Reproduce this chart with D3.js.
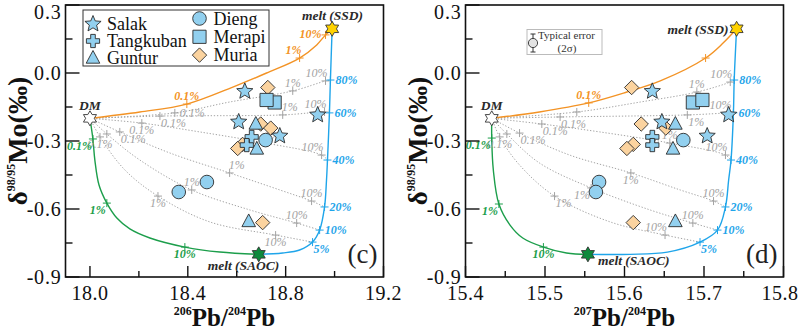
<!DOCTYPE html>
<html>
<head>
<meta charset="utf-8">
<script src="https://cdn.jsdelivr.net/npm/d3@7"></script>
<style>
  body { margin: 0; background: #fff; }
  svg { display: block; }
  text { font-family: 'Liberation Serif', 'Times New Roman', 'DejaVu Serif', serif; }
</style>
</head>
<body>
<svg id="chart" width="800" height="330"></svg>
<script>
// ---- axis ticks ----
const MO_TICKS = [0.3, 0.0, -0.3, -0.6, -0.9]
const MO_MINOR = [0.15, -0.15, -0.45, -0.75]
const PB206_TICKS = [18.0, 18.4, 18.8, 19.2]
const PB206_MINOR = [18.2, 18.6, 19.0]
const PB207_TICKS = [15.4, 15.5, 15.6, 15.7, 15.8]
const PB207_MINOR = [15.45, 15.55, 15.65, 15.75]

// ---- samples: [206Pb/204Pb, 207Pb/204Pb, d98/95Mo] ----
const SALAK = [[18.633, 15.635, -0.081], [18.608, 15.647, -0.216], [18.776, 15.704, -0.278], [18.931, 15.731, -0.185]]
const TANGKUBAN = [[18.661, 15.635, -0.282], [18.641, 15.635, -0.318]]
const GUNTUR = [[18.678, 15.664, -0.225], [18.682, 15.661, -0.335], [18.649, 15.664, -0.655]]
const DIENG = [[18.718, 15.674, -0.296], [18.478, 15.568, -0.481], [18.363, 15.564, -0.525]]
const MERAPI = [[18.755, 15.686, -0.130], [18.722, 15.698, -0.119]]
const MURIA = [[18.727, 15.609, -0.064], [18.698, 15.621, -0.225], [18.739, 15.652, -0.243], [18.624, 15.611, -0.315], [18.604, 15.603, -0.333], [18.706, 15.611, -0.660]]

// ---- end-members ----
const DM = [18.0, 15.433, -0.2]
const SSD = [18.99, 15.741, 0.195]
const SAOC = [18.69, 15.554, -0.8]

// ---- mixing curves, panel c: [x, y, tickLabel, labelSide] ----
const ORANGE_C = [[18.0, -0.2], [18.204, -0.172], [18.396, -0.137, '0.1%', 'n'], [18.584, -0.062], [18.722, 0.0],
  [18.857, 0.066, '1%', 'nw'], [18.927, 0.124], [18.963, 0.168, '10%', 'w'], [18.99, 0.195]]
const GREEN_C = [[18.0, -0.2], [18.012, -0.291, '0.1%', 'sw'], [18.020, -0.384], [18.037, -0.494], [18.069, -0.574, '1%', 'sw'],
  [18.110, -0.640], [18.163, -0.688], [18.245, -0.728], [18.388, -0.768, '10%', 's'], [18.531, -0.790], [18.69, -0.80]]
const BLUE_C = [[18.69, -0.80], [18.788, -0.794], [18.857, -0.781], [18.910, -0.746, '5%', 'se'], [18.939, -0.693, '10%', 'e'],
  [18.959, -0.591, '20%', 'e'], [18.967, -0.472], [18.971, -0.384, '40%', 'e'], [18.979, -0.176, '60%', 'e'],
  [18.983, -0.031, '80%', 'e'], [18.99, 0.195]]
const GRAY_C = [
  [[18.0, -0.2], [18.347, -0.176, '0.1%', 'e'], [18.571, -0.128], [18.829, -0.079, '1%', 'n'], [18.963, -0.035, '10%', 'nw'], [18.983, -0.031]],
  [[18.0, -0.2], [18.286, -0.190, '0.1%', 'se'], [18.788, -0.185, '1%', 'ne'], [18.959, -0.172, '10%', 'nw'], [18.979, -0.176]],
  [[18.0, -0.2], [18.212, -0.221, '0.1%', 's'], [18.449, -0.260], [18.718, -0.309, '1%', 'ne'], [18.947, -0.362, '10%', 'nw'], [18.971, -0.384]],
  [[18.0, -0.2], [18.122, -0.260, '0.1%', 'se'], [18.327, -0.353], [18.571, -0.441, '1%', 'ne'], [18.776, -0.516], [18.906, -0.565, '10%', 'n'], [18.959, -0.591]],
  [[18.0, -0.2], [18.069, -0.269, ''], [18.204, -0.384], [18.416, -0.516, '1%', 'n'], [18.653, -0.604], [18.845, -0.662, '10%', 'n'], [18.939, -0.693]],
  [[18.0, -0.2], [18.041, -0.282, '0.1%', 's'], [18.143, -0.428], [18.278, -0.543, '1%', 's'], [18.490, -0.657], [18.759, -0.715, '10%', 's'], [18.910, -0.746]]
]

// ---- mixing curves, panel d ----
const ORANGE_D = [[15.433, -0.2], [15.493, -0.172], [15.555, -0.132, '0.1%', 'n'], [15.603, -0.084], [15.645, -0.035],
  [15.702, 0.066, ''], [15.724, 0.132], [15.741, 0.195]]
const GREEN_D = [[15.433, -0.2], [15.433, -0.287, '0.1%', 'sw'], [15.435, -0.428], [15.442, -0.578, '1%', 'sw'], [15.456, -0.671],
  [15.472, -0.728], [15.498, -0.768, '10%', 's'], [15.527, -0.794], [15.554, -0.80]]
const BLUE_D = [[15.554, -0.80], [15.607, -0.800], [15.654, -0.790], [15.695, -0.746, '5%', 'se'], [15.717, -0.693, '10%', 'e'],
  [15.727, -0.591, '20%', 'e'], [15.731, -0.472], [15.734, -0.384, '40%', 'e'], [15.737, -0.176, '60%', 'e'],
  [15.738, -0.031, '80%', 'e'], [15.741, 0.195]]
const GRAY_D = [
  [[15.433, -0.2], [15.540, -0.172, ''], [15.620, -0.128], [15.691, -0.084, '1%', 'n'], [15.733, -0.040, '10%', 'nw'], [15.738, -0.031]],
  [[15.433, -0.2], [15.519, -0.194, '0.1%', 'se'], [15.679, -0.185, '1%', 'se'], [15.732, -0.176, '10%', 'nw'], [15.737, -0.176]],
  [[15.433, -0.2], [15.496, -0.225, '0.1%', 'se'], [15.569, -0.260], [15.657, -0.309, '1%', 'n'], [15.727, -0.362, '10%', 'nw'], [15.734, -0.384]],
  [[15.433, -0.2], [15.468, -0.265, '0.1%', 'se'], [15.531, -0.362], [15.608, -0.441, '1%', 's'], [15.670, -0.516], [15.712, -0.565, '10%', 'n'], [15.727, -0.591]],
  [[15.433, -0.2], [15.452, -0.269, ''], [15.493, -0.397], [15.558, -0.507, '1%', 'sw'], [15.632, -0.604], [15.686, -0.662, '10%', 'n'], [15.717, -0.693]],
  [[15.433, -0.2], [15.443, -0.282, '0.1%', 's'], [15.468, -0.406], [15.512, -0.543, '1%', 'se'], [15.582, -0.657], [15.651, -0.715, '10%', 'nw'], [15.695, -0.746]]
]

// ---- styles ----
const FONT = "'Liberation Serif', 'Times New Roman', 'DejaVu Serif', serif"
const C_ORANGE = '#f39325'
const C_GREEN = '#1c9e4b'
const C_BLUE = '#1fa5ea'
const C_GRAY = '#a3a3a3'
const C_FILL = '#92d0ef'
const C_PEACH = '#fbd39f'
const C_EDGE = '#2b2b2b'

const GROUPS = [
  { name: 'Muria', data: MURIA, shape: 'diamond', fill: C_PEACH },
  { name: 'Merapi', data: MERAPI, shape: 'square', fill: C_FILL },
  { name: 'Dieng', data: DIENG, shape: 'circle', fill: C_FILL },
  { name: 'Salak', data: SALAK, shape: 'star', fill: C_FILL },
  { name: 'Guntur', data: GUNTUR, shape: 'triangle', fill: C_FILL },
  { name: 'Tangkuban', data: TANGKUBAN, shape: 'cross', fill: C_FILL }
]
const LEGEND_ROWS = [
  { name: 'Salak', col: 0, row: 0 }, { name: 'Tangkuban', col: 0, row: 1 }, { name: 'Guntur', col: 0, row: 2 },
  { name: 'Dieng', col: 1, row: 0 }, { name: 'Merapi', col: 1, row: 1 }, { name: 'Muria', col: 1, row: 2 }
]

const shapePath = (shape) => {
  const p = d3.path()
  if (shape === 'star' || shape === 'hex') {
    const n = shape === 'star' ? 5 : 6
    const R = shape === 'star' ? 8.5 : 7.5
    const r = shape === 'star' ? R * 0.45 : R * 0.58
    for (let i = 0; i < 2 * n; i++) {
      const a = -Math.PI / 2 + i * Math.PI / n
      const rr = i % 2 ? r : R
      i ? p.lineTo(rr * Math.cos(a), rr * Math.sin(a)) : p.moveTo(rr * Math.cos(a), rr * Math.sin(a))
    }
    p.closePath()
  } else if (shape === 'circle') {
    p.arc(0, 0, 6.8, 0, 2 * Math.PI)
  } else if (shape === 'square') {
    p.rect(-6.6, -6.6, 13.2, 13.2)
  } else if (shape === 'diamond') {
    p.moveTo(0, -7.2); p.lineTo(7.2, 0); p.lineTo(0, 7.2); p.lineTo(-7.2, 0); p.closePath()
  } else if (shape === 'triangle') {
    p.moveTo(0, -7.5); p.lineTo(6.8, 5.2); p.lineTo(-6.8, 5.2); p.closePath()
  } else if (shape === 'cross') {
    const a = 2.3, b = 6.6
    p.moveTo(-a, -b); p.lineTo(a, -b); p.lineTo(a, -a); p.lineTo(b, -a); p.lineTo(b, a); p.lineTo(a, a)
    p.lineTo(a, b); p.lineTo(-a, b); p.lineTo(-a, a); p.lineTo(-b, a); p.lineTo(-b, -a); p.lineTo(-a, -a); p.closePath()
  }
  return p.toString()
}

const LABEL_SIDE = {
  n: ['middle', 0, -4], s: ['middle', 0, 11], e: ['start', 5, 4], w: ['end', -4, 3],
  ne: ['start', -1, -4], nw: ['end', 2, -4], se: ['start', 1, 11], sw: ['end', -1, 11]
}

const fmt = d3.formatLocale({ decimal: '.', thousands: ',', grouping: [3], currency: ['', ''], minus: '-' }).format('.1f')
const svg = d3.select('#chart')

const PANELS = [
  { key: 'c', xi: 0, left: 65.5, right: 383.5, xDomain: [17.9, 19.2], xTicks: PB206_TICKS, xMinor: PB206_MINOR, xSup: '206',
    orange: ORANGE_C, green: GREEN_C, blue: BLUE_C, gray: GRAY_C },
  { key: 'd', xi: 1, left: 465.5, right: 783.5, xDomain: [15.4, 15.8], xTicks: PB207_TICKS, xMinor: PB207_MINOR, xSup: '207',
    orange: ORANGE_D, green: GREEN_D, blue: BLUE_D, gray: GRAY_D }
]

function drawPanel(cfg) {
  const g = svg.append('g')
  const top = 5, bottom = 277
  const x = d3.scaleLinear().domain(cfg.xDomain).range([cfg.left, cfg.right])
  const y = d3.scaleLinear().domain([-0.9, 0.3]).range([bottom, top])
  const line = d3.line().x(d => x(d[0])).y(d => y(d[1])).curve(d3.curveCatmullRom.alpha(0.5))

  // mixing curves
  cfg.gray.forEach(c => {
    g.append('path').attr('d', line(c)).attr('fill', 'none')
      .attr('stroke', C_GRAY).attr('stroke-width', 1).attr('stroke-dasharray', '1.3 1.8')
  })
  const curves = [
    { pts: cfg.orange, color: C_ORANGE }, { pts: cfg.green, color: C_GREEN }, { pts: cfg.blue, color: C_BLUE }
  ]
  curves.forEach(c => {
    g.append('path').attr('d', line(c.pts)).attr('fill', 'none').attr('stroke', c.color).attr('stroke-width', 1.4)
  })

  // "+" marks and percent labels
  const marked = []
  cfg.gray.forEach(c => c.forEach(p => p.length > 2 && marked.push({ p, color: C_GRAY, bold: false })))
  curves.forEach(c => c.pts.forEach(p => p.length > 2 && marked.push({ p, color: c.color, bold: true })))
  marked.forEach(m => {
    const px = x(m.p[0]), py = y(m.p[1])
    g.append('path').attr('d', `M${px - 4},${py}H${px + 4}M${px},${py - 4}V${py + 4}`)
      .attr('stroke', m.color).attr('stroke-width', 1)
    if (m.p[2]) {
      const [anchor, dx, dy] = LABEL_SIDE[m.p[3]]
      g.append('text').attr('x', px + dx).attr('y', py + dy).attr('text-anchor', anchor)
        .attr('font-size', 12).attr('font-style', 'italic').attr('font-weight', m.bold ? 'bold' : 'normal')
        .attr('fill', m.color).text(m.p[2])
    }
  })

  // end-members
  const ends = [
    { d: DM, fill: '#fff' }, { d: SSD, fill: '#ffd200' }, { d: SAOC, fill: '#0d8a3c' }
  ]
  ends.forEach(e => {
    g.append('path').attr('d', shapePath('hex'))
      .attr('transform', `translate(${x(e.d[cfg.xi])},${y(e.d[2])})`)
      .attr('fill', e.fill).attr('stroke', '#333').attr('stroke-width', 0.9)
  })
  const endText = (t, px, py, anchor) => g.append('text').attr('x', px).attr('y', py).attr('text-anchor', anchor)
    .attr('font-size', 13.5).attr('font-style', 'italic').attr('font-weight', 'bold').attr('fill', '#2a2a2a').text(t)
  endText('DM', x(DM[cfg.xi]), y(DM[2]) - 8, 'middle')
  if (cfg.key === 'c') {
    endText('melt (SSD)', x(SSD[0]) + 31, y(SSD[2]) - 9, 'end')
    endText('melt (SAOC)', x(SAOC[0]) - 51, y(SAOC[2]) + 16, 'start')
  } else {
    endText('melt (SSD)', x(SSD[1]) - 8, y(SSD[2]) + 5, 'end')
    endText('melt (SAOC)', x(SAOC[1]) + 10, y(SAOC[2]) + 11, 'start')
  }

  // samples
  GROUPS.forEach(gr => {
    g.append('g').selectAll('path').data(gr.data).join('path')
      .attr('d', shapePath(gr.shape))
      .attr('transform', d => `translate(${x(d[cfg.xi])},${y(d[2])})`)
      .attr('fill', gr.fill).attr('stroke', C_EDGE).attr('stroke-width', 0.9)
  })

  // frame and ticks
  g.append('rect').attr('x', cfg.left).attr('y', top).attr('width', cfg.right - cfg.left).attr('height', bottom - top)
    .attr('fill', 'none').attr('stroke', '#111').attr('stroke-width', 1.6)
  MO_TICKS.forEach(v => {
    g.append('line').attr('x1', cfg.left).attr('x2', cfg.left + 14).attr('y1', y(v)).attr('y2', y(v)).attr('stroke', '#111').attr('stroke-width', 1.4)
    g.append('text').attr('x', cfg.left - 4).attr('y', Math.max(y(v), 12) + 7).attr('text-anchor', 'end')
      .attr('font-size', 20).attr('letter-spacing', 0.8).attr('fill', '#111').text(fmt(v))
  })
  MO_MINOR.forEach(v => {
    g.append('line').attr('x1', cfg.left).attr('x2', cfg.left + 7).attr('y1', y(v)).attr('y2', y(v)).attr('stroke', '#111').attr('stroke-width', 1.4)
  })
  cfg.xTicks.forEach(v => {
    g.append('line').attr('x1', x(v)).attr('x2', x(v)).attr('y1', bottom).attr('y2', bottom - 11).attr('stroke', '#111').attr('stroke-width', 1.4)
    g.append('text').attr('x', Math.min(x(v), 780)).attr('y', 300).attr('text-anchor', 'middle')
      .attr('font-size', 20).attr('letter-spacing', 0.5).attr('fill', '#111').text(fmt(v))
  })
  cfg.xMinor.forEach(v => {
    g.append('line').attr('x1', x(v)).attr('x2', x(v)).attr('y1', bottom).attr('y2', bottom - 6).attr('stroke', '#111').attr('stroke-width', 1.4)
  })

  // axis titles
  const yt = g.append('text').attr('transform', `translate(${cfg.left - 39},141) rotate(-90)`)
    .attr('text-anchor', 'middle').attr('font-weight', 'bold').attr('fill', '#111')
  yt.append('tspan').attr('font-size', 27).text('δ')
  yt.append('tspan').attr('font-size', 12).attr('dy', -12).text('98/95')
  yt.append('tspan').attr('font-size', 28).attr('dy', 12).text('Mo(‰)')

  const xt = g.append('text').attr('x', (cfg.left + cfg.right) / 2).attr('y', 326)
    .attr('text-anchor', 'middle').attr('font-weight', 'bold').attr('fill', '#111')
  xt.append('tspan').attr('font-size', 12).attr('dy', -11).text(cfg.xSup)
  xt.append('tspan').attr('font-size', 25).attr('dy', 11).text('Pb/')
  xt.append('tspan').attr('font-size', 12).attr('dy', -11).text('204')
  xt.append('tspan').attr('font-size', 25).attr('dy', 11).text('Pb')

  g.append('text').attr('x', cfg.right - 6).attr('y', 263).attr('text-anchor', 'end')
    .attr('font-size', 27).attr('fill', '#222').text(`(${cfg.key})`)

  // legends
  if (cfg.key === 'c') {
    const lg = g.append('g')
    lg.append('rect').attr('x', cfg.left + 17.5).attr('y', 10).attr('width', 186).attr('height', 56)
      .attr('fill', '#fff').attr('stroke', '#333').attr('stroke-width', 1)
    LEGEND_ROWS.forEach(r => {
      const gr = GROUPS.find(d => d.name === r.name)
      const mx = cfg.left + (r.col ? 134 : 27.5)
      const my = r.col ? 18.5 + r.row * 18.3 : 24 + r.row * 17
      lg.append('path').attr('d', shapePath(gr.shape)).attr('transform', `translate(${mx},${my})`)
        .attr('fill', gr.fill).attr('stroke', C_EDGE).attr('stroke-width', 0.9)
      lg.append('text').attr('x', mx + 14).attr('y', my + 6).attr('font-size', 18).attr('fill', '#111').text(r.name)
    })
  } else {
    const lg = g.append('g')
    lg.append('rect').attr('x', cfg.left + 61.5).attr('y', 29.5).attr('width', 75).attr('height', 25)
      .attr('fill', '#fff').attr('stroke', '#bbb').attr('stroke-width', 1)
    const cx = cfg.left + 67.5, cy = 43
    lg.append('path').attr('d', `M${cx},${cy - 9}V${cy + 9}M${cx - 2.5},${cy - 9}H${cx + 2.5}M${cx - 2.5},${cy + 9}H${cx + 2.5}`)
      .attr('stroke', '#333').attr('stroke-width', 1)
    lg.append('circle').attr('cx', cx).attr('cy', cy).attr('r', 4.6).attr('fill', '#e2e2e2').attr('stroke', '#333').attr('stroke-width', 0.9)
    lg.append('text').attr('x', cx + 5).attr('y', 39).attr('font-size', 11).attr('fill', '#333').text('Typical error')
    lg.append('text').attr('x', cx + 34).attr('y', 51.5).attr('text-anchor', 'middle').attr('font-size', 11).attr('fill', '#333').text('(2σ)')
  }
}

PANELS.forEach(drawPanel)
svg.selectAll('text').attr('font-family', FONT).style('font-family', FONT)
</script>
</body>
</html>
